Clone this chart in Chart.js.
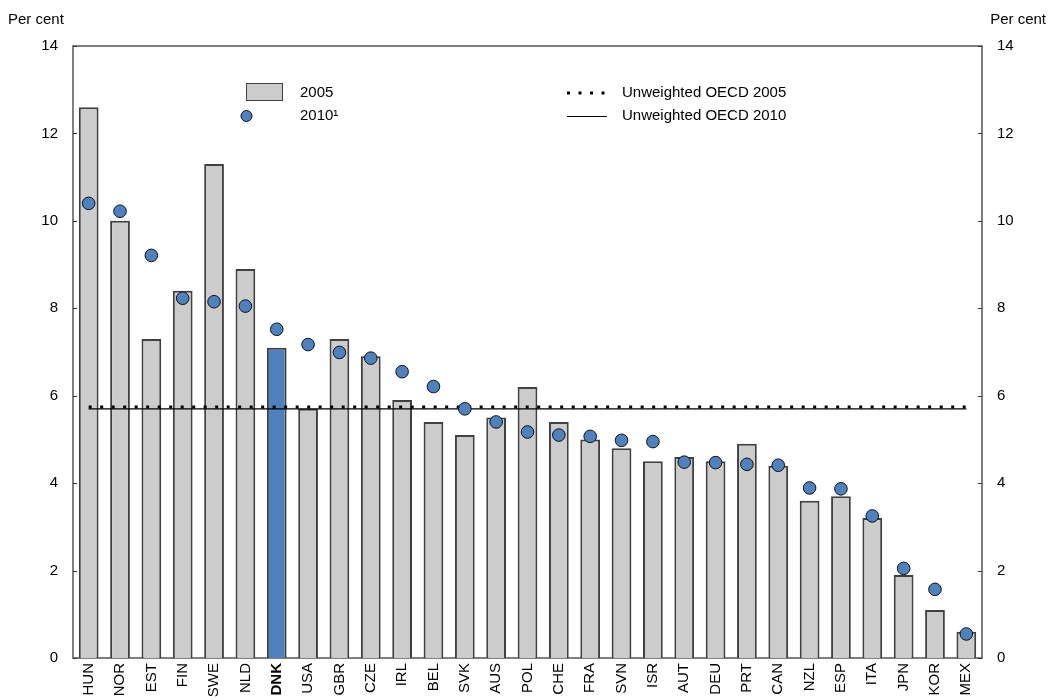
<!DOCTYPE html>
<html>
<head>
<meta charset="utf-8">
<script src="https://cdn.jsdelivr.net/npm/chart.js@4.4.0/dist/chart.umd.min.js"></script>
<style>
  html, body { margin: 0; padding: 0; background: #ffffff; }
  #wrap { width: 1050px; height: 700px; }
</style>
</head>
<body>
<div id="wrap"><canvas id="c" width="1050" height="700"></canvas></div>
<script>
const countries = ['HUN','NOR','EST','FIN','SWE','NLD','DNK','USA','GBR','CZE','IRL','BEL','SVK','AUS','POL','CHE','FRA','SVN','ISR','AUT','DEU','PRT','CAN','NZL','ESP','ITA','JPN','KOR','MEX'];
const values2005 = [12.6,10.0,7.3,8.4,11.3,8.9,7.1,5.7,7.3,6.9,5.9,5.4,5.1,5.5,6.2,5.4,5.0,4.8,4.5,4.6,4.5,4.9,4.4,3.6,3.7,3.2,1.9,1.1,0.6];
const values2010 = [10.4,10.22,9.21,8.23,8.15,8.05,7.52,7.17,6.99,6.86,6.55,6.21,5.7,5.4,5.17,5.1,5.07,4.98,4.95,4.48,4.47,4.43,4.41,3.89,3.87,3.25,2.05,1.57,0.55];
const oecd2005 = 5.74;
const oecd2010 = 5.70;
const yTicks = [0,2,4,6,8,10,12,14];
const highlight = 'DNK';

const FONT = 'Arial, "Liberation Sans", sans-serif';
const BLUE = '#4F81BD';
const GREY = '#CCCCCC';
const EDGE = '#404040';

const extras = {
  id: 'extras',
  beforeDatasetsDraw(chart) {
    const ctx = chart.ctx, a = chart.chartArea;
    ctx.save();
    ctx.strokeStyle = '#555';
    ctx.lineWidth = 1.5;
    ctx.strokeRect(a.left, a.top, a.right - a.left, a.bottom - a.top);
    // inward ticks
    ctx.strokeStyle = '#333';
    ctx.lineWidth = 1;
    const y = chart.scales.y;
    yTicks.forEach(v => {
      const py = Math.round(y.getPixelForValue(v)) + 0.5;
      ctx.beginPath(); ctx.moveTo(a.left, py); ctx.lineTo(a.left + 4, py); ctx.stroke();
      ctx.beginPath(); ctx.moveTo(a.right, py); ctx.lineTo(a.right - 4, py); ctx.stroke();
    });
    const x = chart.scales.x;
    countries.forEach((c, i) => {
      const px = Math.round(x.getPixelForValue(i)) + 0.5;
      ctx.beginPath(); ctx.moveTo(px, a.bottom); ctx.lineTo(px, a.bottom - 4); ctx.stroke();
    });
    ctx.restore();
  },
  afterDraw(chart) {
    const ctx = chart.ctx;
    ctx.save();
    ctx.fillStyle = '#000';
    ctx.font = '15px ' + FONT;
    ctx.textBaseline = 'middle';
    ctx.textAlign = 'left';
    ctx.fillText('Per cent', 8, 20);
    ctx.textAlign = 'right';
    ctx.fillText('Per cent', 1046, 20);
    // legend
    ctx.textAlign = 'left';
    ctx.fillStyle = GREY;
    ctx.fillRect(246, 83, 37, 18);
    ctx.strokeStyle = EDGE; ctx.lineWidth = 1;
    ctx.strokeRect(246.5, 83.5, 36, 17);
    ctx.beginPath(); ctx.arc(246.5, 116, 5.5, 0, Math.PI * 2);
    ctx.fillStyle = BLUE; ctx.fill(); ctx.strokeStyle = '#111'; ctx.stroke();
    ctx.fillStyle = '#000';
    ctx.font = '15px ' + FONT;
    ctx.fillText('2005', 300, 93);
    ctx.fillText('2010\u00B9', 300, 116);
    ctx.strokeStyle = '#000';
    ctx.lineWidth = 3;
    ctx.setLineDash([3, 8.5]);
    ctx.beginPath(); ctx.moveTo(567, 93); ctx.lineTo(609, 93); ctx.stroke();
    ctx.setLineDash([]);
    ctx.lineWidth = 1;
    ctx.beginPath(); ctx.moveTo(567, 116.5); ctx.lineTo(607, 116.5); ctx.stroke();
    ctx.fillText('Unweighted OECD 2005', 622, 93);
    ctx.fillText('Unweighted OECD 2010', 622, 116);
    ctx.restore();
  }
};

new Chart(document.getElementById('c'), {
  data: {
    labels: countries,
    datasets: [
      {
        type: 'line',
        label: '2010\u00B9',
        data: values2010,
        showLine: false,
        pointRadius: 6.3,
        pointBackgroundColor: BLUE,
        pointBorderColor: '#111',
        pointBorderWidth: 1,
        order: 0
      },
      {
        type: 'line',
        label: 'Unweighted OECD 2005',
        data: [{x: countries[0], y: oecd2005}, {x: countries[countries.length - 1], y: oecd2005}],
        borderColor: '#000',
        borderWidth: 3,
        borderDash: [3, 8.5],
        pointRadius: 0,
        fill: false,
        order: 1
      },
      {
        type: 'line',
        label: 'Unweighted OECD 2010',
        data: [{x: countries[0], y: oecd2010}, {x: countries[countries.length - 1], y: oecd2010}],
        borderColor: '#000',
        borderWidth: 1.2,
        pointRadius: 0,
        fill: false,
        order: 1
      },
      {
        type: 'bar',
        label: '2005',
        data: values2005,
        backgroundColor: countries.map(c => c === highlight ? BLUE : GREY),
        borderColor: EDGE,
        borderWidth: 2,
        barPercentage: 0.63,
        categoryPercentage: 1.0,
        order: 2
      }
    ]
  },
  options: {
    responsive: false,
    animation: false,
    layout: { padding: { top: 46, right: 0, bottom: 0, left: 0 } },
    plugins: { legend: { display: false }, tooltip: { enabled: false } },
    scales: {
      x: {
        type: 'category',
        offset: true,
        grid: { display: false },
        border: { display: false },
        ticks: {
          minRotation: 90, maxRotation: 90, autoSkip: false, padding: -3,
          color: '#000',
          font: (c) => ({ family: FONT, size: 15, weight: (c.tick && c.tick.label === highlight) ? 'bold' : 'normal' })
        },
        afterFit(s) { s.height = 42; }
      },
      y: {
        position: 'left', min: 0, max: 14,
        afterBuildTicks(s) { s.ticks = yTicks.map(v => ({ value: v })); },
        grid: { display: false },
        border: { display: false },
        ticks: { color: '#000', padding: 7, font: { family: FONT, size: 15 } },
        afterFit(s) { s.width = 73; }
      },
      y2: {
        position: 'right', min: 0, max: 14, display: true,
        afterBuildTicks(s) { s.ticks = yTicks.map(v => ({ value: v })); },
        grid: { display: false },
        border: { display: false },
        ticks: { color: '#000', padding: 7, font: { family: FONT, size: 15 } },
        afterFit(s) { s.width = 68; }
      }
    }
  },
  plugins: [extras]
});
</script>
</body>
</html>
